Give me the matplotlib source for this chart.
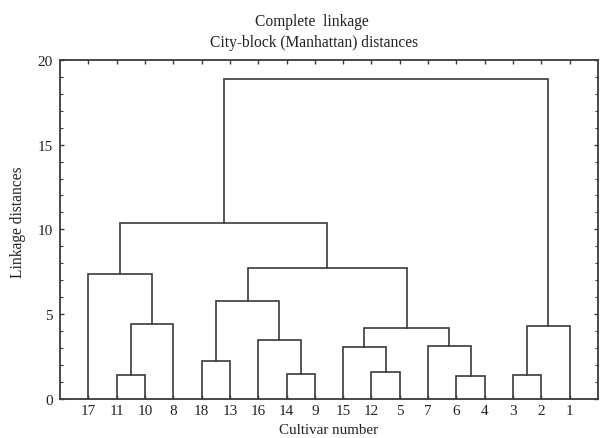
import matplotlib
matplotlib.use("Agg")
import matplotlib.pyplot as plt
from matplotlib.ticker import MultipleLocator

plt.rcParams['font.family'] = ['Liberation Serif', 'DejaVu Serif']

# leaf order along the x axis (cultivar numbers)
leaf_order = ["17", "11", "10", "8", "18", "13", "16", "14", "9",
              "15", "12", "5", "7", "6", "4", "3", "2", "1"]

# merges: child a, child b, linkage distance ("M<i>" = result of merge i)
merge_a = ["11", "M0", "17", "18", "14", "16", "M3", "12", "15",
           "6", "7", "M8", "M6", "M2", "3", "M14", "M13"]
merge_b = ["10", "8", "M1", "13", "9", "M4", "M5", "5", "M7",
           "4", "M9", "M10", "M11", "M12", "2", "1", "M15"]
merge_h = [1.41, 4.39, 7.39, 2.24, 1.45, 3.49, 5.76, 1.57, 3.04,
           1.37, 3.10, 4.16, 7.69, 10.37, 1.41, 4.27, 18.87]

line_col = '#3a3a3a'
txt_col = '#222222'

fig = plt.figure(figsize=(6.0, 4.39), dpi=100)
ax = fig.add_axes([0.1, 0.0895, 0.8967, 0.7715])

# x position and height of every node
pos = {lab: i + 1 for i, lab in enumerate(leaf_order)}
hgt = {lab: 0.0 for lab in leaf_order}

for i, (a, b, h) in enumerate(zip(merge_a, merge_b, merge_h)):
    xa, xb = pos[a], pos[b]
    ax.plot([xa, xa, xb, xb], [hgt[a], h, h, hgt[b]],
            color=line_col, lw=1.2, solid_joinstyle='miter')
    pos["M%d" % i] = (xa + xb) / 2
    hgt["M%d" % i] = h

ax.set_xlim(0, len(leaf_order) + 1)
ax.set_ylim(0, 20)
ax.set_xticks(range(1, len(leaf_order) + 1))
ax.set_xticklabels(leaf_order)
ax.yaxis.set_major_locator(MultipleLocator(5))
ax.yaxis.set_minor_locator(MultipleLocator(1))

ax.tick_params(axis='both', which='both', direction='in', top=True,
               right=True, color=line_col, labelcolor=txt_col,
               labelsize=11, pad=4)
ax.tick_params(axis='y', which='both', pad=5)
ax.tick_params(axis='both', which='major', length=3, width=1)
ax.tick_params(axis='y', which='minor', length=2.5, width=0.8)
for s in ax.spines.values():
    s.set_color(line_col)
    s.set_linewidth(1.3)

fig.text(312 / 600, 1 - 22 / 439, "Complete  linkage", ha='center',
         va='center', fontsize=11.2, color=txt_col)
fig.text(314 / 600, 1 - 43 / 439, "City-block (Manhattan) distances",
         ha='center', va='center', fontsize=11.2, color=txt_col)
fig.text(329 / 600, 1 - 431 / 439, "Cultivar number", ha='center',
         va='center', fontsize=10.8, color=txt_col)
fig.text(18 / 600, 1 - 222 / 439, "Linkage distances", ha='center',
         va='center', rotation=90, fontsize=11.2, color=txt_col)

fig.savefig("out.png", dpi=100)
